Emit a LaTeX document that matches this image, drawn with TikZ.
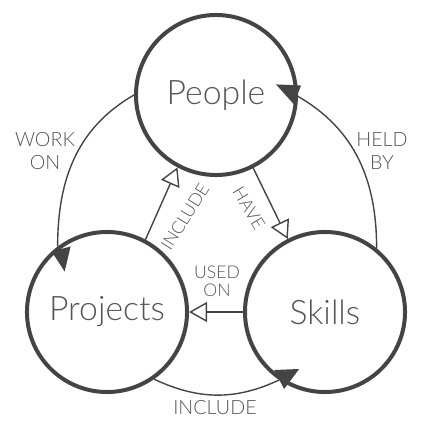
\documentclass[tikz,border=0pt]{standalone}
\usepackage{fontspec}
\setmainfont{Lato}[UprightFont={* Light}]
\usepackage{tikz}
\usetikzlibrary{arrows.meta}
\definecolor{ink}{HTML}{444444}
\definecolor{txt}{HTML}{555555}

\begin{document}
\begin{tikzpicture}[x=0.025cm,y=0.025cm,
    entity/.style={circle,draw=ink,line width=0.1cm,minimum size=4cm,inner sep=0pt,
      text=txt,font=\fontsize{24}{26}\selectfont},
    rel/.style={draw=ink,line width=0.035cm},
    isa/.style={rel,-{Triangle[open,length=0.45cm,width=0.5cm]}},
    lbl/.style={text=txt,font=\fontsize{14}{16}\selectfont,align=center,inner sep=0pt},
    headfill/.style={fill=ink}]
          \useasboundingbox (0,0) rectangle (434,-433);
          \node[entity] (people) at (216,-95) {People};
          \node[entity] (projects) at (107,-312) {Projects};
          \node[entity] (skills) at (325,-312) {Skills};
          % outer arcs
          \draw[rel] (people.180) to[out=210,in=90] (projects.127);
          \draw[rel] (skills.51) to[out=90,in=-30] (people.-1);
          \draw[rel] (projects.-55) to[out=-25,in=205] (skills.236);
          \fill[headfill] (projects.127) ++(-6,-5) -- ++(19,5) -- ++(-6,-25) -- cycle;
          \fill[headfill] (people.-1) ++(-22,12) -- ++(25,-1) -- ++(-7,-19) -- cycle;
          \fill[headfill] (skills.236) ++(-5,10) -- ++(25,1) -- ++(-15,-20) -- cycle;
          % inner arrows
          \draw[isa] (projects.62) -- (people.242);
          \draw[isa] (people.297) -- (skills.117);
          \draw[isa] (skills.180) -- (projects.0);
          % labels
          \node[lbl] (workon) at (45,-151) {WORK\\ON};
          \node[lbl] (heldby) at (382,-151) {HELD\\BY};
          \node[lbl] (inclb) at (215,-408) {INCLUDE};
          \node[lbl,font=\fontsize{12.5}{13}\selectfont] (usedon) at (217,-281) {USED\\ON};
          \node[lbl,font=\fontsize{12.5}{13}\selectfont,rotate=58] (incli) at (185,-217) {INCLUDE};
          \node[lbl,font=\fontsize{12.5}{13}\selectfont,rotate=-59] (have) at (249,-208) {HAVE};
        \end{tikzpicture}
\end{document}
